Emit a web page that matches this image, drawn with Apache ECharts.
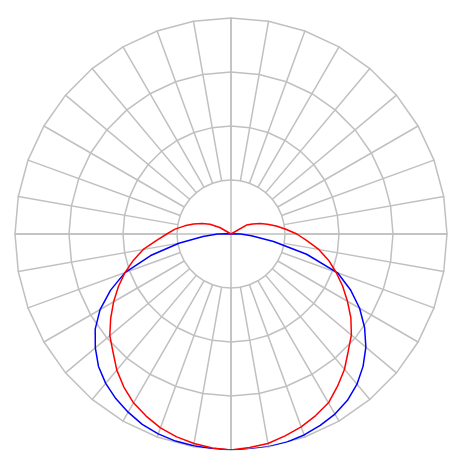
<!DOCTYPE html>
<html>
<head>
<meta charset="utf-8">
<script src="https://cdn.jsdelivr.net/npm/echarts@6/dist/echarts.min.js"></script>
<style>
html,body{margin:0;padding:0;background:#fff;}
#chart{width:465px;height:465px;}
</style>
</head>
<body>
<div id="chart"></div>
<script>
// angle from nadir (0 = down), going round through the left side (0..180) then right side (180..360)
var angles = [0,5,10,15,20,25,30,35,40,45,50,55,60,65,70,75,80,85,90,95,100,105,110,115,120,125,130,135,140,145,150,155,160,165,170,175,
              180,185,190,195,200,205,210,215,220,225,230,235,240,245,250,255,260,265,270,275,280,285,290,295,300,305,310,315,320,325,330,335,340,345,350,355,360];
var blueValues = [400,399,398,397,394,389,381,372,361,347,328,307,280,246,209,154,98,52,25,7,0,0,0,0,0,0,0,0,0,0,0,0,0,0,0,0,
                  0,0,0,0,0,0,0,0,0,0,0,0,0,0,0,0,0,4,18,38,80,145,210,244,275,302,326,346,363,376,385,391,396,399,400,400,400];
var redValues = [400,398,394,389,382,372,361,346,329,309,293,272,251,230,209,187,165,139,119,104,87,72,57,43,24,0,0,0,0,0,0,0,0,0,0,0,
                 0,0,0,0,0,0,0,0,0,0,0,0,33,44,57,70,85,102,122,141,165,187,207,228,249,271,291,307,327,344,361,371,380,387,394,397,400];
var ringMax = 400;
var spokeCount = 36;

var gridColor = '#c0c0c0';
var indicators = [];
for (var i = 0; i < spokeCount; i++) indicators.push({ name: '', min: 0, max: 3 });

function pairs(vals) {
  return angles.map(function (a, i) { return [vals[i], a]; });
}

var chart = echarts.init(document.getElementById('chart'), null, { renderer: 'canvas' });
chart.setOption({
  animation: false,
  backgroundColor: '#fff',
  radar: {
    center: [231, 234],
    radius: [54, 216],
    startAngle: 90,
    shape: 'polygon',
    splitNumber: 3,
    indicator: indicators,
    axisName: { show: false },
    axisLine: { lineStyle: { color: gridColor, width: 1.5 } },
    splitLine: { lineStyle: { color: gridColor, width: 1.5 } },
    splitArea: { show: false },
    axisTick: { show: false },
    axisLabel: { show: false }
  },
  polar: {
    center: [231, 234],
    radius: [0, 216]
  },
  angleAxis: {
    type: 'value',
    min: 0,
    max: 360,
    interval: 90,
    startAngle: -90,
    clockwise: true,
    axisLine: { show: false },
    axisTick: { show: false },
    axisLabel: { show: false },
    splitLine: { show: true, lineStyle: { color: gridColor, width: 1.5 } }
  },
  radiusAxis: {
    type: 'value',
    min: 0,
    max: ringMax,
    axisLine: { show: false },
    axisTick: { show: false },
    axisLabel: { show: false },
    splitLine: { show: false }
  },
  series: [
    {
      type: 'line',
      coordinateSystem: 'polar',
      data: pairs(blueValues),
      showSymbol: false,
      symbol: 'none',
      lineStyle: { color: '#0000ff', width: 1.5 },
      z: 5
    },
    {
      type: 'line',
      coordinateSystem: 'polar',
      data: pairs(redValues),
      showSymbol: false,
      symbol: 'none',
      lineStyle: { color: '#ff0000', width: 1.5 },
      z: 6
    }
  ]
});
</script>
</body>
</html>
